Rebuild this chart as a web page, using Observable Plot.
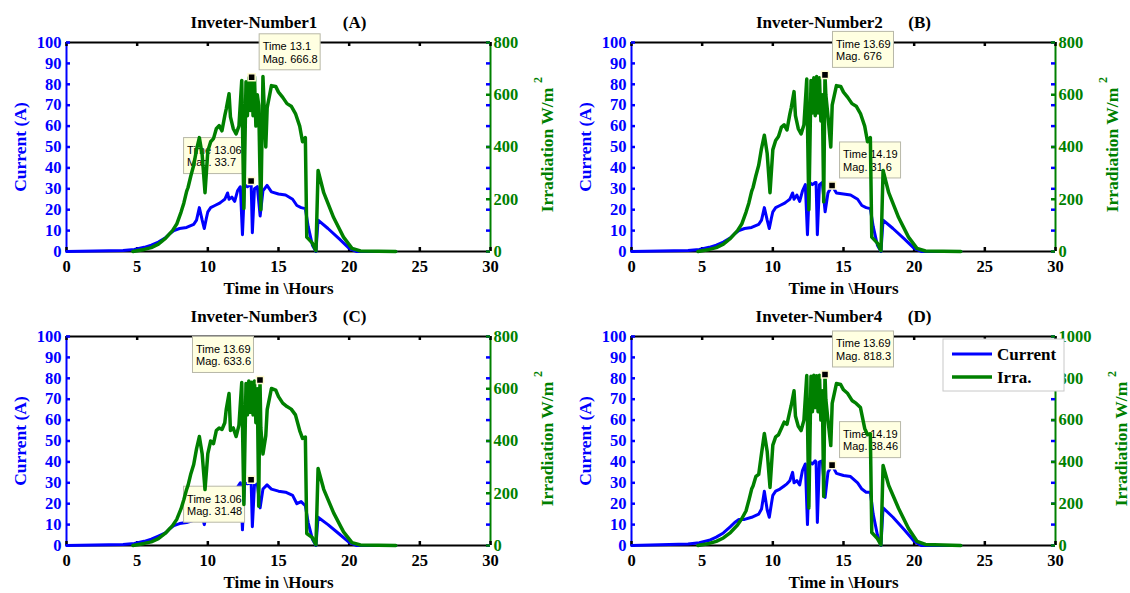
<!DOCTYPE html>
<html>
<head>
<meta charset="utf-8">
<script src="https://cdn.jsdelivr.net/npm/d3@7"></script>
<script src="https://cdn.jsdelivr.net/npm/@observablehq/plot@0.6"></script>
<style>
  html, body { margin: 0; padding: 0; background: #fff; }
  #wrap { position: relative; width: 1130px; height: 593px; overflow: hidden; background: #fff; }
  .panel { position: absolute; }
  svg text { white-space: pre; }
</style>
</head>
<body>
<div id="wrap"></div>
<script>
// ---------- data ----------
const xTicks = [0, 5, 10, 15, 20, 25, 30];
const currentTicks = [0, 10, 20, 30, 40, 50, 60, 70, 80, 90, 100];
const irrTicks800 = [0, 200, 400, 600, 800];
const irrTicks1000 = [0, 200, 400, 600, 800, 1000];
const xDomain = [0, 30];
const yDomain = [0, 100];

const titles = ["Inveter-Number1      (A)", "Inveter-Number2      (B)", "Inveter-Number3      (C)", "Inveter-Number4      (D)"];
const xLabel = "Time in \\Hours";
const yLabelLeft = "Current (A)";
const yLabelRight = "Irradiation W/m";
const yLabelRightSup = "2";
const legendLabels = ["Current", "Irra."];

// time (hours) of the current samples
const timeI = [0, 2, 4, 4.8, 5.5, 6, 6.5, 7, 7.3, 7.6,
  8, 8.5, 9, 9.2, 9.4, 9.6, 9.75, 9.9, 10.0, 10.2,
  10.5, 10.8, 11.0, 11.2, 11.4, 11.5, 11.7, 11.9, 12.1, 12.3,
  12.45, 12.6, 12.8, 13.0, 13.06, 13.15, 13.3, 13.5, 13.7, 13.9,
  14.19, 14.5, 15.0, 15.5, 16.0, 16.3, 16.6, 16.9, 17.1, 17.4,
  17.65, 17.8, 18.5, 19.3, 20.0, 20.5, 23.3];

const currentA = [0, 0.2, 0.5, 1, 2, 3, 4.5, 6.5, 8.5, 10,
  11, 11.5, 13, 15, 21, 15, 11, 16, 19, 21,
  22, 23, 24, 25, 28, 25, 26, 24, 29, 31,
  8, 32, 31, 32, 33.7, 9, 30, 31, 17, 29,
  31.6, 28.5, 27.5, 27, 25, 22, 21, 20.5, 12, 3,
  0, 15, 11, 6, 1.5, 0, 0];
const currentB = [0, 0.2, 0.5, 1, 2, 3, 4.5, 6.5, 8.5, 10,
  11, 11.5, 13, 15, 21, 15, 11, 16, 19, 21,
  22, 23, 24, 25, 28, 25, 27, 24, 29, 32,
  8, 33, 32, 33, 33, 8, 32, 33, 19, 28,
  31.6, 28, 27.5, 27, 25, 22, 21, 20.5, 12, 3,
  0, 15, 11, 6, 1.5, 0, 0];
const currentC = [0, 0.2, 0.5, 1, 2, 3, 4.5, 6, 8, 9.5,
  10.5, 11, 12, 14, 19, 14, 10, 15, 18, 20,
  21, 22, 23, 24, 27, 24, 25, 23, 28, 30,
  7.5, 30, 29.5, 30, 31.48, 9, 29, 29.5, 18, 27,
  29, 27, 26, 25.5, 24, 20, 21, 19, 11, 3,
  0, 13.5, 10, 5.5, 1.5, 0, 0];
const currentD = [0, 0.3, 0.7, 1.3, 2.5, 4, 6, 9, 11, 12.5,
  12.5, 13.5, 15, 17.5, 26, 17, 13.5, 20, 24, 26,
  27, 28.5, 29.5, 31, 35, 30, 31, 29, 36, 39,
  10, 40, 39, 40.5, 40, 11, 40, 40.5, 23, 35,
  38.46, 34.5, 33.5, 33, 30, 27, 25.5, 25.5, 15, 5,
  0, 18, 13.5, 7.5, 2, 0, 0];

// time (hours) of the irradiation samples
const timeG = [4.7, 5.5, 6, 6.5, 7, 7.5, 7.8, 8.1, 8.3, 8.5,
  8.6, 8.8, 9.0, 9.2, 9.4, 9.6, 9.8, 10.0, 10.2, 10.4,
  10.6, 10.8, 11.0, 11.2, 11.3, 11.5, 11.6, 11.8, 12.0, 12.2,
  12.4, 12.55, 12.7, 12.8, 12.9, 13.0, 13.1, 13.2, 13.3, 13.4,
  13.5, 13.6, 13.69, 13.75, 13.9, 14.1, 14.2, 14.5, 14.8, 15.0,
  15.3, 15.6, 15.9, 16.2, 16.5, 16.7, 16.9, 17.0, 17.4, 17.65,
  17.8, 18.2, 18.9, 19.6, 20.2, 20.8, 23.3];

const irrA = [0, 8, 15, 28, 50, 80, 105, 150, 185, 230,
  245, 290, 330, 390, 436, 370, 225, 385, 420, 432,
  470, 482, 462, 520, 545, 604, 515, 470, 450, 480,
  655, 165, 650, 520, 665, 540, 666.8, 520, 670, 480,
  600, 560, 300, 160, 670, 400, 551, 635, 632, 610,
  590, 566, 556, 528, 480, 420, 436, 55, 32, 3,
  310, 225, 130, 55, 12, 2, 0];
const irrB = [0, 8, 15, 28, 50, 80, 105, 150, 185, 230,
  245, 290, 330, 395, 445, 375, 225, 390, 425, 440,
  475, 485, 465, 525, 550, 612, 520, 470, 450, 485,
  660, 160, 655, 530, 665, 520, 670, 530, 665, 500,
  600, 190, 676, 600, 520, 400, 560, 635, 632, 610,
  590, 566, 556, 528, 480, 420, 436, 55, 32, 3,
  310, 225, 130, 55, 12, 2, 0];
const irrC = [0, 8, 14, 26, 47, 76, 100, 140, 175, 215,
  230, 275, 310, 370, 417, 350, 214, 352, 400, 390,
  440, 450, 444, 470, 520, 582, 440, 450, 417, 460,
  624, 157, 620, 500, 630, 510, 625, 500, 630, 470,
  600, 150, 633.6, 450, 350, 420, 520, 601, 595, 570,
  545, 532, 522, 500, 440, 410, 415, 46, 30, 3,
  295, 215, 125, 52, 11, 2, 0];
const irrD = [0, 10, 20, 36, 62, 98, 128, 165, 215, 270,
  285, 330, 340, 440, 536, 450, 278, 480, 520, 530,
  560, 590, 580, 640, 670, 740, 620, 570, 550, 600,
  813, 180, 810, 640, 815, 660, 812, 640, 815, 600,
  740, 234, 818.3, 700, 600, 478, 680, 775, 770, 745,
  727, 694, 680, 660, 560, 530, 535, 62, 33, 3,
  383, 287, 177, 81, 20, 5, 0];

// data tips (series, time, magnitude, placement of the box)
const tipsA = [{series: "I", t: 13.06, v: 33.7, place: "ul"}, {series: "G", t: 13.1, v: 666.8, place: "ur"}];
const tipsB = [{series: "I", t: 14.19, v: 31.6, place: "ur"}, {series: "G", t: 13.69, v: 676, place: "ur"}];
const tipsC = [{series: "I", t: 13.06, v: 31.48, place: "ll"}, {series: "G", t: 13.69, v: 633.6, place: "ul"}];
const tipsD = [{series: "I", t: 14.19, v: 38.46, place: "ur"}, {series: "G", t: 13.69, v: 818.3, place: "ur"}];

// ---------- styles ----------
const BLUE = "#0000ff";
const GREEN = "#008000";
const SERIF = "'Liberation Serif', 'Times New Roman', serif";
const SANS = "'Liberation Sans', Arial, sans-serif";
const tipPlace = {ur: {left: 8, top: -43}, ul: {left: -67, top: -43}, ll: {left: -67, top: 7}};
const TIP_W = 61, TIP_H = 36;

function panel({title, current, irr, irrTicks, tips, left, top, height, marginTop, marginBottom, rightLabelDx}) {
  const width = 565, marginLeft = 66, marginRight = 75;
  const plotW = width - marginLeft - marginRight;
  const plotH = height - marginTop - marginBottom;
  const tickLen = 4;
  const irrMax = irrTicks[irrTicks.length - 1];
  const k = (yDomain[1] - yDomain[0]) / irrMax;
  const I = timeI.map((t, i) => ({t, v: current[i]}));
  const G = timeG.map((t, i) => ({t, v: irr[i] * k}));

  const tipMarks = (s) => tips.filter(d => d.series === s).flatMap(d => {
    const off = tipPlace[d.place];
    const datum = {t: d.t, y: s === "G" ? d.v * k : d.v, text: `Time ${d.t}\nMag. ${d.v}`};
    return [
      Plot.rect([datum], {x1: "t", x2: "t", y1: "y", y2: "y",
        insetLeft: off.left, insetRight: -(off.left + TIP_W),
        insetTop: off.top, insetBottom: -(off.top + TIP_H),
        fill: "#ffffe1", stroke: "#b8b8a8", strokeWidth: 1}),
      Plot.text([datum], {x: "t", y: "y", text: "text", dx: off.left + 3, dy: off.top + 7,
        textAnchor: "start", lineAnchor: "top", lineHeight: 1.13,
        fontFamily: SANS, fontSize: 11, fontWeight: "normal", fill: "#000"}),
      Plot.dot([datum], {x: "t", y: "y", symbol: "square", r: 4, fill: "#000", stroke: "#fffbd0", strokeWidth: 1.5})
    ];
  });

  const svg = Plot.plot({
    width, height, marginLeft, marginRight, marginTop, marginBottom,
    x: {domain: xDomain},
    y: {domain: yDomain},
    style: `font-family: ${SERIF}; font-weight: bold; font-size: 16px; background: white; overflow: visible;`,
    marks: [
      // box
      Plot.ruleY(yDomain, {stroke: "#000", strokeWidth: 2}),
      Plot.ruleX([xDomain[0]], {stroke: BLUE, strokeWidth: 2}),
      Plot.ruleX([xDomain[1]], {stroke: GREEN, strokeWidth: 2}),
      // inner ticks
      Plot.tickX(xTicks, {x: d => d, stroke: "#000", strokeWidth: 2.5, insetTop: plotH - tickLen}),
      Plot.tickX(xTicks, {x: d => d, stroke: "#000", strokeWidth: 2.5, insetBottom: plotH - tickLen}),
      Plot.tickY(currentTicks, {y: d => d, stroke: BLUE, strokeWidth: 2.5, insetRight: plotW - tickLen}),
      Plot.tickY(currentTicks, {y: d => d, stroke: BLUE, strokeWidth: 2.5, insetLeft: plotW - tickLen}),
      Plot.tickY(irrTicks.map(v => v * k), {y: d => d, stroke: GREEN, strokeWidth: 2.5, insetLeft: plotW - tickLen}),
      // current series + its data tip
      Plot.line(I, {x: "t", y: "v", stroke: BLUE, strokeWidth: 3}),
      ...tipMarks("I"),
      // irradiation series + its data tip
      Plot.line(G, {x: "t", y: "v", stroke: GREEN, strokeWidth: 3.5}),
      ...tipMarks("G"),
      // axes text
      Plot.axisX(xTicks, {anchor: "bottom", tickSize: 0, tickPadding: 9, color: "#000", fontWeight: "bold", fontSize: 16.5, label: null}),
      Plot.axisY(currentTicks, {anchor: "left", tickSize: 0, tickPadding: 5, color: BLUE, fontWeight: "bold", fontSize: 16.5, label: null}),
      Plot.axisY(irrTicks.map(v => v * k), {anchor: "right", tickSize: 0, tickPadding: 3, color: GREEN, fontWeight: "bold", fontSize: 16.5, label: null,
        tickFormat: d => String(Math.round(d / k))}),
      // titles and labels
      Plot.text([title], {frameAnchor: "top", dy: -15, lineAnchor: "bottom", textAnchor: "middle", text: d => d, fontSize: 17, fill: "#000"}),
      Plot.text([xLabel], {frameAnchor: "bottom", dy: 42, lineAnchor: "bottom", textAnchor: "middle", text: d => d, fontSize: 17, fill: "#000"}),
      Plot.text([yLabelLeft], {frameAnchor: "left", dx: -46, rotate: -90, textAnchor: "middle", lineAnchor: "middle", text: d => d, fontSize: 17.5, fill: BLUE}),
      Plot.text([yLabelRight], {frameAnchor: "right", dx: rightLabelDx, dy: 3, rotate: -90, textAnchor: "middle", lineAnchor: "middle", text: d => d, fontSize: 17.5, fill: GREEN}),
      Plot.text([yLabelRightSup], {frameAnchor: "right", dx: rightLabelDx - 9, dy: -64, rotate: -90, textAnchor: "start", lineAnchor: "middle", text: d => d, fontSize: 12, fill: GREEN})
    ]
  });
  const div = document.createElement("div");
  div.className = "panel";
  div.style.left = left + "px";
  div.style.top = top + "px";
  div.appendChild(svg);
  document.getElementById("wrap").appendChild(div);
}

panel({title: titles[0], current: currentA, irr: irrA, irrTicks: irrTicks800, tips: tipsA,
  left: 0, top: 0, height: 296, marginTop: 42, marginBottom: 45, rightLabelDx: 57});
panel({title: titles[1], current: currentB, irr: irrB, irrTicks: irrTicks800, tips: tipsB,
  left: 565, top: 0, height: 296, marginTop: 42, marginBottom: 45, rightLabelDx: 57});
panel({title: titles[2], current: currentC, irr: irrC, irrTicks: irrTicks800, tips: tipsC,
  left: 0, top: 296, height: 297, marginTop: 40, marginBottom: 48, rightLabelDx: 57});
panel({title: titles[3], current: currentD, irr: irrD, irrTicks: irrTicks1000, tips: tipsD,
  left: 565, top: 296, height: 297, marginTop: 40, marginBottom: 48, rightLabelDx: 66});

// ---------- legend (inside panel D) ----------
const legendColors = [BLUE, GREEN];
const lg = d3.select("#wrap").append("svg")
  .attr("width", 123).attr("height", 54)
  .style("position", "absolute").style("left", "942px").style("top", "338px");
lg.append("rect").attr("x", 1).attr("y", 1).attr("width", 121).attr("height", 52)
  .attr("fill", "#fff").attr("stroke", "#c8c8c8").attr("stroke-width", 1);
legendLabels.forEach((lab, i) => {
  const y = 16 + i * 23;
  lg.append("line").attr("x1", 10).attr("x2", 50).attr("y1", y).attr("y2", y)
    .attr("stroke", legendColors[i]).attr("stroke-width", i === 0 ? 3 : 3.5);
  lg.append("text").attr("x", 55).attr("y", y + 6).text(lab)
    .attr("font-family", SERIF).attr("font-weight", "bold").attr("font-size", 17).attr("fill", "#000");
});
</script>
</body>
</html>
